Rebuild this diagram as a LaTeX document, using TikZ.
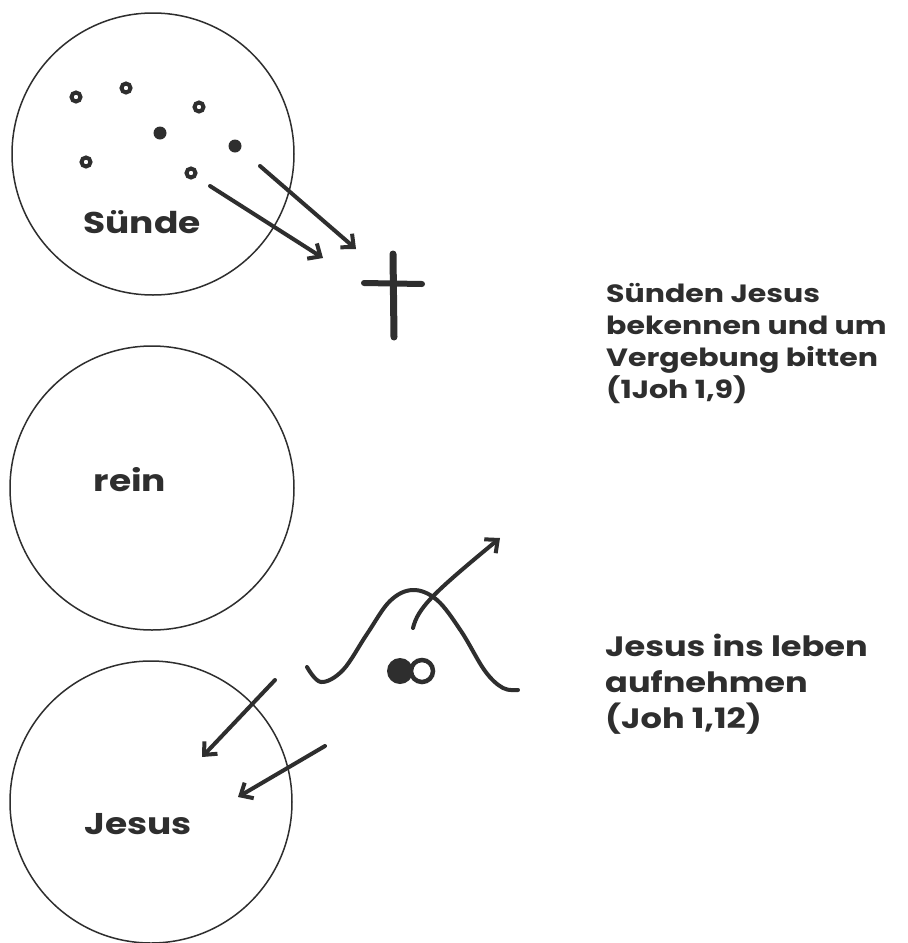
\documentclass[tikz,border=0pt]{standalone}
\usepackage{fontspec}
\newfontfamily\handfont[FakeStretch=1.2]{Poppins}
\usetikzlibrary{arrows.meta}
\definecolor{ink}{HTML}{2E2E2E}
\begin{document}
\begin{tikzpicture}[x=1pt,y=-1pt,
  ring/.style={circle, draw=ink, line width=1.5pt, inner sep=0pt, minimum size=282pt},
  hollowdot/.style={circle, draw=ink, line width=4pt, inner sep=0pt, minimum size=9pt},
  soliddot/.style={circle, fill=ink, inner sep=0pt, minimum size=13pt},
  pen/.style={draw=ink, line width=4pt, line cap=round, line join=round},
  barb/.style={-{Straight Barb[length=10pt,width=18pt,line width=4pt]}},
  hand/.style={text=ink, font=\handfont\bfseries\fontsize{30}{36}\selectfont, inner sep=0pt, anchor=base},
  note/.style={text=ink, align=left, anchor=north west, inner sep=0pt},
  notefont/.style 2 args={font=\handfont\bfseries\fontsize{#1}{#2}\selectfont}]
\useasboundingbox (0,0) rectangle (908,943);
\fill[white] (0,0) rectangle (908,943);

% circles
\node[ring] (suende) at (153,154) {};
\node[ring, minimum size=284pt] (rein) at (152,488) {};
\node[ring] (jesus) at (151,802) {};

\node[hand] (tsuende) at (142,233) {Sünde};
\node[hand] (trein) at (130,491) {rein};
\node[hand] (tjesus) at (138,834) {Jesus};

% sin dots
\node[hollowdot] (d1) at (76,97) {};
\node[hollowdot] (d2) at (126,88) {};
\node[hollowdot] (d3) at (199,107) {};
\node[soliddot] (d4) at (160,133) {};
\node[soliddot] (d5) at (235,146) {};
\node[hollowdot] (d6) at (86,162) {};
\node[hollowdot] (d7) at (191,173) {};

% arrows to the cross
\coordinate (a1s) at (210,186);
\coordinate (a1e) at (323,258);
\coordinate (a2s) at (260,166);
\coordinate (a2e) at (356,249);
\draw[pen, barb] (a1s) -- (a1e);
\draw[pen, barb] (a2s) -- (a2e);

% cross
\coordinate (ct) at (393,254);
\coordinate (cb) at (394,337);
\coordinate (cl) at (364,283);
\coordinate (cr) at (422,284);
\draw[draw=ink, line width=7pt, line cap=round] (ct) -- (cb);
\draw[draw=ink, line width=6pt, line cap=round] (cl) -- (cr);

% wave
\draw[pen] plot[smooth, tension=0.6] coordinates {(307,667) (321,682) (343,670) (367,634) (390,601) (413,590) (437,600) (461,631) (485,671) (503,688) (518,690)};
\coordinate (w1) at (413,628);
\coordinate (w2) at (500,538);
\draw[pen, barb] (w1) .. controls (418,608) and (432,594) .. (w2);

% person symbol
\node[circle, fill=ink, inner sep=0pt, minimum size=26pt] (p1) at (400,671) {};
\node[circle, draw=ink, fill=white, line width=4.5pt, inner sep=0pt, minimum size=22pt] (p2) at (422,671) {};

% arrows into Jesus circle
\coordinate (b1s) at (275,680);
\coordinate (b1e) at (202,757);
\coordinate (b2s) at (325,746);
\coordinate (b2e) at (238,797);
\draw[pen, barb] (b1s) -- (b1e);
\draw[pen, barb] (b2s) -- (b2e);

% notes
\node[note, notefont={25}{32}] (n1) at (606,283) {Sünden Jesus\\bekennen und um\\Vergebung bitten\\(1Joh 1,9)};
\node[note, notefont={28}{36}] (n2) at (605,634) {Jesus ins leben\\aufnehmen\\(Joh 1,12)};
\end{tikzpicture}
\end{document}
